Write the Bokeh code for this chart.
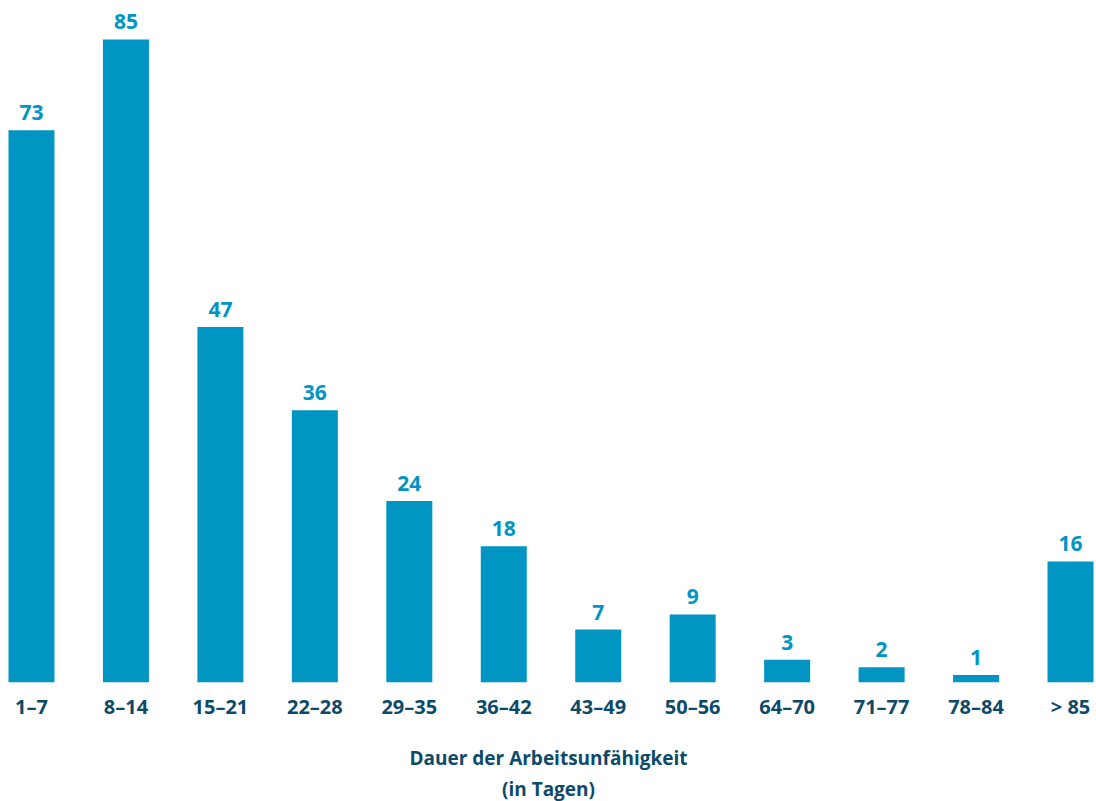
from bokeh.plotting import figure
from bokeh.models import ColumnDataSource, LabelSet, FixedTicker
from bokeh.core.properties import value
from bokeh.embed import file_html
from bokeh.resources import INLINE

categories = ["1–7", "8–14", "15–21", "22–28", "29–35", "36–42", "43–49",
              "50–56", "64–70", "71–77", "78–84", "> 85"]
values = [73, 85, 47, 36, 24, 18, 7, 9, 3, 2, 1, 16]

BAR = "#0095c3"
NAVY = "#0c4a6a"
FONT = "Open Sans"

xs = list(range(len(categories)))
src = ColumnDataSource(dict(x=xs, v=values, lab=[str(v) for v in values]))

p = figure(frame_width=1096, frame_height=682, output_backend="svg",
           toolbar_location=None, x_range=(-0.328, 11.275), y_range=(0, 90.15),
           min_border=0)
p.vbar(x="x", top="v", width=0.487, source=src, color=BAR, line_color=None)

labels = LabelSet(x="x", y="v", text="lab", source=src, text_align="center",
                  text_baseline="alphabetic", y_offset=10, text_color=BAR,
                  text_font=value(FONT), text_font_style="bold",
                  text_font_size="21px")
p.add_layout(labels)

p.yaxis.visible = False
p.grid.visible = False
p.outline_line_color = None

ax = p.xaxis[0]
ax.ticker = FixedTicker(ticks=xs)
ax.major_label_overrides = {i: c for i, c in enumerate(categories)}
ax.axis_line_color = None
ax.major_tick_line_color = None
ax.major_tick_out = 0
ax.major_tick_in = 0
ax.minor_tick_line_color = None
ax.minor_tick_out = 0
ax.major_label_standoff = 10
ax.major_label_text_font = FONT
ax.major_label_text_font_style = "bold"
ax.major_label_text_font_size = "20px"
ax.major_label_text_color = NAVY
ax.axis_label = "Dauer der Arbeitsunfähigkeit\n(in Tagen)"
ax.axis_label_standoff = 22
ax.axis_label_text_font = FONT
ax.axis_label_text_font_style = "bold"
ax.axis_label_text_font_size = "19px"
ax.axis_label_text_color = NAVY

open("out.html", "w").write(file_html(p, INLINE))
